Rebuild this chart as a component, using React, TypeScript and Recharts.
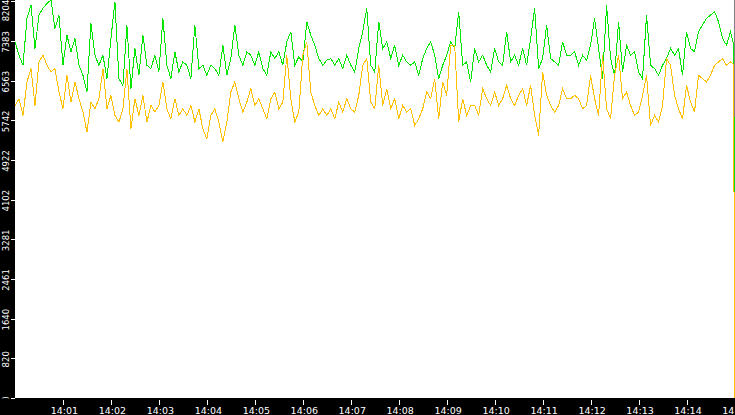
import React from 'react';
import { LineChart, Line, XAxis, YAxis, CartesianGrid } from 'recharts';

// Sample times (seconds after 14:00): regular samples every 5 s, then the tail samples.
const SAMPLE_STEP_S = 5;
const tailTimes = [899, 900];

const greenValues = [
  7367, 7089, 6882, 7851, 8128, 7228, 7920, 8059, 8162, 8231, 7643, 7920, 6882, 7505, 7159, 7436, 6882, 6674, 6328, 7747,
  7089, 6882, 7089, 6605, 7436, 8197, 6605, 6466, 7713, 6397, 7228, 6674, 7505, 6882, 6813, 7089, 6743, 7851, 6882, 6605,
  7159, 6743, 6951, 6882, 6605, 7713, 6813, 6882, 6674, 6882, 6813, 6674, 7297, 6674, 7020, 7713, 7089, 6882, 7159,
  7089, 6882, 7159, 6813, 6674, 7159, 7020, 7159, 6882, 7367, 7574, 6882, 7055, 6951, 7782, 7505, 7297, 7020, 6882, 6986,
  7020, 6882, 7020, 6813, 7089, 6882, 6743, 7228, 7574, 8059, 6882, 6743, 7782, 7228, 7367, 7020, 7297, 6882, 7089, 6951,
  6882, 6951, 6674, 7020, 7228, 7367, 7089, 6605, 6882, 7089, 7367, 7228, 7990, 6882, 6951, 6536, 7228, 6951, 7089, 6882,
  6743, 7228, 6951, 6882, 7574, 6951, 7089, 6882, 7228, 6882, 7436, 8059, 6813, 7020, 7713, 7020, 6951, 6882, 7367, 7089,
  7089, 7159, 6882, 7089, 6986, 7297, 7851, 7228, 6605, 8128, 7020, 6674, 7782, 6743, 7297, 7089, 7159, 6743, 6605, 7920,
  6882, 6813, 6674, 6882, 7020, 7228, 7089, 7228, 6674, 7574, 7228, 7159, 7574, 7713, 7851, 7920, 7990, 7782, 7436, 7297,
  7574,
  7300, 3480,
];

const yellowValues = [
  6050, 6189, 5843, 6536, 6813, 6050, 6951, 7089, 6882, 6743, 6813, 6328, 5982, 6674, 6120, 6536, 6189, 5913, 5497, 6120,
  5982, 6189, 6813, 5982, 6258, 5843, 5705, 5982, 6813, 5566, 6189, 5843, 6258, 5705, 6050, 5913, 6050, 6536, 5982, 5774,
  6189, 5843, 5982, 5843, 6050, 5705, 5982, 5566, 5359, 5843, 5982, 5705, 5290, 5705, 6328, 6536, 6189, 5913, 6120,
  6397, 6050, 6189, 5982, 5774, 6189, 6328, 5982, 6120, 7089, 6189, 5705, 5913, 7089, 7367, 6328, 6050, 5843, 5982, 5843,
  5982, 5774, 6120, 5913, 6189, 5982, 5913, 6258, 6882, 7020, 6120, 5982, 6882, 6050, 6397, 5982, 6189, 5774, 6050, 5913,
  5982, 5635, 5774, 5982, 6328, 6189, 6605, 5774, 6536, 6258, 7297, 7297, 5705, 6189, 5843, 6050, 6050, 5843, 6397, 6189,
  6050, 6328, 6050, 6189, 6466, 6189, 6050, 6258, 6397, 6050, 6466, 5843, 5428, 6743, 6258, 6050, 5913, 6050, 6397, 6189,
  6189, 6258, 6189, 5982, 6050, 6674, 6189, 5843, 7089, 5982, 5774, 6674, 7089, 6189, 6328, 6050, 5843, 5913, 6258, 6674,
  5635, 5843, 5705, 6050, 7020, 6882, 6258, 5982, 5774, 6466, 6120, 5913, 6674, 6605, 6536, 6674, 6882, 6951, 7020, 6882,
  6951,
  6900, 0,
];

const yTickValues = [0, 820.4, 1640.8, 2461.2, 3281.6, 4102, 4922.4, 5742.8, 6563.2, 7383.6, 8204];
const yTickLabels = ['0', '820', '1640', '2461', '3281', '4102', '4922', '5742', '6563', '7383', '8204'];
const xTickValues = [60, 120, 180, 240, 300, 360, 420, 480, 540, 600, 660, 720, 780, 840, 900];
const xTickLabels = ['14:01', '14:02', '14:03', '14:04', '14:05', '14:06', '14:07', '14:08', '14:09', '14:10', '14:11', '14:12', '14:13', '14:14', '14:15'];

const regularCount = greenValues.length - tailTimes.length;
const data = greenValues.map((g, i) => ({
  t: i < regularCount ? i * SAMPLE_STEP_S : tailTimes[i - regularCount],
  green: g,
  yellow: yellowValues[i],
}));

const YTick = (props: any) => {
  const { x, y, index } = props;
  const cy = Math.max(y + 1, 10.5);
  const ly = Math.round(y) + 0.5;
  const id = `yclip-${index}`;
  return (
    <g>
      <defs>
        <clipPath id={id}>
          <rect x={0} y={0} width={15} height={398.5} />
        </clipPath>
      </defs>
      <line x1={x - 4} x2={x} y1={ly} y2={ly} stroke="#fff" strokeWidth={1} />
      <g clipPath={`url(#${id})`}>
        <text
          transform={`translate(8.5 ${cy}) rotate(-90)`}
          textAnchor="middle"
          fill="#fff"
          fontSize={8.5}
          fontFamily="DejaVu Sans"
        >
          {yTickLabels[index]}
        </text>
      </g>
    </g>
  );
};

const XTick = (props: any) => {
  const { x, y, index } = props;
  const lx = Math.round(x) + 0.5;
  return (
    <g>
      <line x1={lx} x2={lx} y1={y + 2} y2={y + 7} stroke="#fff" strokeWidth={1} />
      <text x={x + 1.5} y={y + 15.5} textAnchor="middle" fill="#fff" fontSize={9.5} fontFamily="DejaVu Sans">
        {xTickLabels[index]}
      </text>
    </g>
  );
};

export default function App() {
  return (
    <div style={{ position: 'absolute', left: 0, top: 0, width: 735, height: 415, background: '#000' }}>
      <LineChart width={735} height={415} data={data} margin={{ top: 0, right: 0.5, bottom: 0, left: 0 }}>
        <CartesianGrid horizontal={false} vertical={false} fill="#fff" stroke="none" />
        <XAxis
          dataKey="t"
          type="number"
          domain={[0, 900]}
          ticks={xTickValues}
          interval={0}
          height={17}
          tickSize={0}
          tickMargin={0}
          axisLine={false}
          tickLine={false}
          tick={<XTick />}
        />
        <YAxis
          type="number"
          domain={[0, 8230]}
          ticks={yTickValues}
          interval={0}
          width={15}
          tickSize={0}
          tickMargin={0}
          axisLine={false}
          tickLine={false}
          tick={<YTick />}
        />
        <Line
          dataKey="green"
          type="linear"
          stroke="#00e600"
          strokeWidth={1}
          dot={false}
          activeDot={false}
          isAnimationActive={false}
          shapeRendering="crispEdges"
        />
        <Line
          dataKey="yellow"
          type="linear"
          stroke="#ffc000"
          strokeWidth={1}
          dot={false}
          activeDot={false}
          isAnimationActive={false}
          shapeRendering="crispEdges"
        />
      </LineChart>
    </div>
  );
}
